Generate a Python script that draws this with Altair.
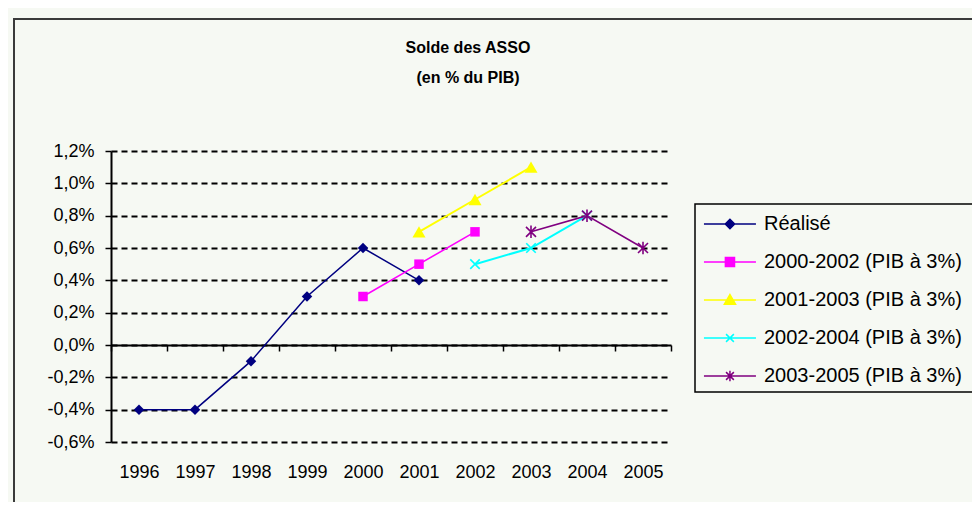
import altair as alt
import pandas as pd

years = ["1996", "1997", "1998", "1999", "2000", "2001", "2002", "2003", "2004", "2005"]
y_ticks = [-0.6, -0.4, -0.2, 0.0, 0.2, 0.4, 0.6, 0.8, 1.0, 1.2]
title_lines = ["Solde des ASSO", "(en % du PIB)"]

series_names = ["Réalisé", "2000-2002 (PIB à 3%)", "2001-2003 (PIB à 3%)",
                "2002-2004 (PIB à 3%)", "2003-2005 (PIB à 3%)"]
series_years = [
    ["1996", "1997", "1998", "1999", "2000", "2001"],
    ["2000", "2001", "2002"],
    ["2001", "2002", "2003"],
    ["2002", "2003", "2004"],
    ["2003", "2004", "2005"],
]
series_values = [
    [-0.4, -0.4, -0.1, 0.3, 0.6, 0.4],
    [0.3, 0.5, 0.7],
    [0.7, 0.9, 1.1],
    [0.5, 0.6, 0.8],
    [0.7, 0.8, 0.6],
]
colors = ["#000080", "#ff00ff", "#ffff00", "#00ffff", "#800080"]
line_widths = [1.5, 1.6, 2, 2, 1.6]
marker_shapes = ["diamond", "square", "triangle-up",
                 "M-1,-1L1,1M-1,1L1,-1",
                 "M-1,-1L1,1M-1,1L1,-1M0,-1.25L0,1.25"]
marker_sizes = [110, 90, 170, 90, 100]
marker_filled = [True, True, True, False, False]
legend_shapes = [
    "M-0.85,0L3.15,0M1.15,-0.36L1.51,0L1.15,0.36L0.79,0Z",
    "M-0.85,0L3.15,0M0.8,-0.35H1.5V0.35H0.8Z",
    "M-0.85,0L3.15,0M1.15,-0.42L1.58,0.32H0.72Z",
    "M-0.85,0L3.15,0M0.85,-0.3L1.45,0.3M0.85,0.3L1.45,-0.3",
    "M-0.85,0L3.15,0M0.85,-0.3L1.45,0.3M0.85,0.3L1.45,-0.3M1.15,-0.4L1.15,0.4",
]

rows = []
for name, ys, vs in zip(series_names, series_years, series_values):
    for yr, v in zip(ys, vs):
        rows.append({"series": name, "year": yr, "value": v})
df = pd.DataFrame(rows)

BG = "#f6f9f3"
FONT = "Liberation Sans"

x_enc = alt.X("year:N", scale=alt.Scale(domain=years, type="band", paddingInner=0, paddingOuter=0),
              axis=alt.Axis(title=None, orient="bottom", offset=-97, domain=True, domainColor="black",
                            domainWidth=2, ticks=True, tickBand="extent", tickSize=6, tickColor="black",
                            tickWidth=1.5, labelAngle=0, labelPadding=112, labelFont=FONT,
                            labelFontSize=18, labelColor="black", grid=False))
y_enc = alt.Y("value:Q", scale=alt.Scale(domain=[-0.6, 1.2], nice=False, zero=False),
              axis=alt.Axis(title=None, values=y_ticks, grid=True, gridDash=[6, 4], gridColor="black",
                            gridWidth=2, domain=True, domainColor="black", domainWidth=2,
                            ticks=True, tickSize=6, tickColor="black", tickWidth=1.5,
                            labelFont=FONT, labelFontSize=18, labelColor="black", labelPadding=11,
                            labelExpr="replace(replace(format(datum.value, '.1f'), '.', ','), '\u2212', '-') + '%'"))

one = alt.Data(values=[{}])
frame = alt.Chart(one).mark_rect(filled=False, stroke="#3a3a3a", strokeWidth=2).encode(
    x=alt.value(-97), x2=alt.value(900), y=alt.value(-132), y2=alt.value(400))
legend_box = alt.Chart(one).mark_rect(fill=BG, stroke="black", strokeWidth=1.5).encode(
    x=alt.value(584), x2=alt.value(900), y=alt.value(53), y2=alt.value(241))

title1 = alt.Chart(one).mark_text(
    text=title_lines[0], font=FONT, fontSize=16, fontWeight="bold", color="black",
    align="center", baseline="middle").encode(x=alt.value(357), y=alt.value(-103))
title2 = alt.Chart(one).mark_text(
    text=title_lines[1], font=FONT, fontSize=16, fontWeight="bold", color="black",
    align="center", baseline="middle").encode(x=alt.value(357), y=alt.value(-73))

layers = [frame, legend_box, title1, title2]
for i, name in enumerate(series_names):
    base = alt.Chart(df).transform_filter(alt.datum.series == name)
    layers.append(base.mark_line(color=colors[i], strokeWidth=line_widths[i]).encode(x=x_enc, y=y_enc))
for i, name in enumerate(series_names):
    base = alt.Chart(df).transform_filter(alt.datum.series == name)
    if marker_filled[i]:
        m = base.mark_point(filled=True, shape=marker_shapes[i], size=marker_sizes[i],
                            color=colors[i], opacity=1)
    else:
        m = base.mark_point(filled=False, shape=marker_shapes[i], size=marker_sizes[i],
                            color=colors[i], strokeWidth=1.6, opacity=1)
    layers.append(m.encode(x=x_enc, y=y_enc))

legend_def = alt.Legend(title=None, orient="none", legendX=584, legendY=53,
                        padding=6, symbolSize=676, symbolStrokeWidth=1.5,
                        labelFont=FONT, labelFontSize=20, labelColor="black", labelOffset=35,
                        rowPadding=14, labelLimit=600, symbolOpacity=1)
legend_layer = alt.Chart(df).transform_filter("false").mark_point(filled=True).encode(
    x=x_enc, y=y_enc,
    fill=alt.Fill("series:N", scale=alt.Scale(domain=series_names, range=colors), legend=legend_def),
    stroke=alt.Stroke("series:N", scale=alt.Scale(domain=series_names, range=colors), legend=legend_def),
    shape=alt.Shape("series:N", scale=alt.Scale(domain=series_names, range=legend_shapes), legend=legend_def),
)
layers.append(legend_layer)

chart = alt.layer(*layers).properties(
    width=560, height=291,
    padding={"left": 103, "top": 143, "right": 301, "bottom": 60},
    autosize=alt.AutoSizeParams(type="none"),
).configure(background=BG).configure_view(stroke=None)

chart.save("out.html", embed_options={"renderer": "svg", "actions": False})
